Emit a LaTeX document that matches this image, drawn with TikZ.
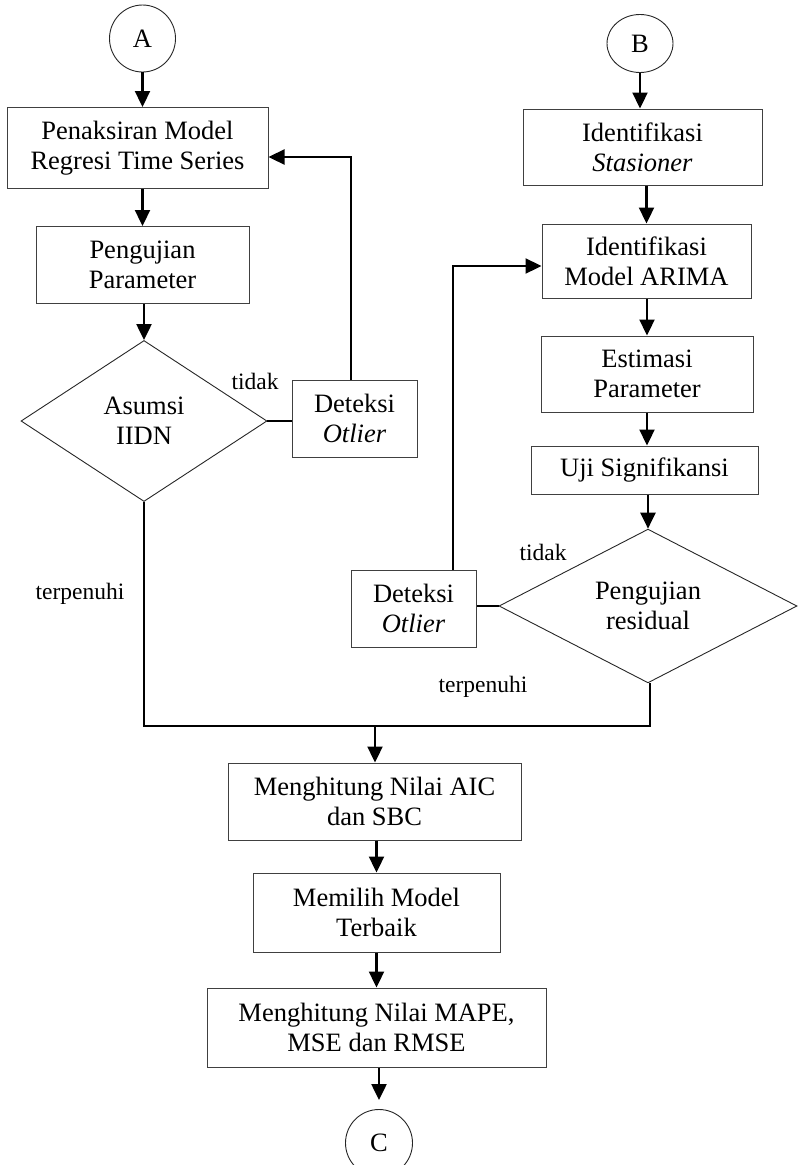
\documentclass[tikz,border=0pt]{standalone}
\usepackage{fontspec}
\setmainfont{Liberation Serif}
\usetikzlibrary{shapes.geometric,arrows.meta}
\begin{document}
\begin{tikzpicture}[x=1pt,y=-1pt,
  every node/.style={font=\fontsize{26.5}{30}\selectfont, inner sep=0pt, align=center},
  box/.style={draw=black!75, line width=1pt, rectangle},
  dia/.style={draw=black!85, line width=0.9pt, diamond},
  circ/.style={draw=black!85, line width=0.9pt, ellipse},
  conn/.style={draw=black, line width=2.3pt},
  arr/.style={conn, -{Triangle[length=16pt,width=15pt]}},
  lbl/.style={font=\fontsize{23.5}{26}\selectfont},
]
\path[use as bounding box] (0,0) rectangle (798,1165);

% left column
\node[circ, minimum width=66pt, minimum height=67pt] (A) at (142.5,38.5) {A};
\node[box, minimum width=261pt, minimum height=81pt] (P1) at (137.5,148) {Penaksiran Model\\Regresi Time Series};
\node[box, minimum width=213pt, minimum height=77pt] (P2) at (142.5,265) {Pengujian\\Parameter};
\node[dia, minimum width=246pt, minimum height=161pt] (D1) at (144,421) {Asumsi\\IIDN};
\node[box, minimum width=125pt, minimum height=77pt] (O1) at (354.5,418.5) {Deteksi\\\textit{Otlier}};
\node[lbl] (t1) at (255,381) {tidak};
\node[lbl] (f1) at (80,594) {terpenuhi};

% right column
\node[circ, minimum width=66pt, minimum height=58pt] (B) at (640,43.5) {B};
\node[box, minimum width=239pt, minimum height=76pt] (S1) at (642.5,147) {Identifikasi\\\textit{Stasioner}};
\node[box, minimum width=209pt, minimum height=74pt] (S2) at (646.5,261) {Identifikasi\\Model ARIMA};
\node[box, minimum width=212pt, minimum height=76pt] (S3) at (647,374) {Estimasi\\Parameter};
\node[box, minimum width=227pt, minimum height=48pt] (S4) at (644.5,470) {Uji Signifikansi};
\node[dia, minimum width=298pt, minimum height=152pt] (D2) at (648,606) {Pengujian\\residual};
\node[box, minimum width=125pt, minimum height=77pt] (O2) at (413.5,608.5) {Deteksi\\\textit{Otlier}};
\node[lbl] (t2) at (543,552) {tidak};
\node[lbl] (f2) at (483,687) {terpenuhi};

% bottom column
\coordinate (J) at (375,726);
\node[box, minimum width=293pt, minimum height=77pt] (M1) at (374.5,801.5) {Menghitung Nilai AIC\\dan SBC};
\node[box, minimum width=247pt, minimum height=79pt] (M2) at (376.5,912.5) {Memilih Model\\Terbaik};
\node[box, minimum width=339pt, minimum height=79pt] (M3) at (376.5,1027.5) {Menghitung Nilai MAPE,\\MSE dan RMSE};
\node[circ, minimum width=67pt, minimum height=67pt] (C) at (379,1143) {C};

% connectors left
\draw[arr] (A.south) -- (A.south |- P1.north);
\draw[arr] (P1.south -| P2.north) -- (P2.north);
\draw[arr] (P2.south -| D1.north) -- (D1.north);
\draw[conn] (D1.east) -- (D1.east -| O1.west);
\draw[arr] ([xshift=-3.5pt]O1.north) |- ([yshift=-9pt]P1.east);

% connectors right
\draw[arr] (B.south) -- (B.south |- S1.north);
\draw[arr] (S1.south -| S2.north) -- (S2.north);
\draw[arr] (S2.south -| S3.north) -- (S3.north);
\draw[arr] (S3.south) -- (S3.south |- S4.north);
\draw[arr] (S4.south -| D2.north) -- (D2.north);
\draw[conn] (D2.west) -- (D2.west -| O2.east);
\draw[arr] ([xshift=39.5pt]O2.north) |- ([yshift=-5pt]S2.west);

% merge and bottom
\draw[conn] (D1.south) |- (J) -| ([xshift=2pt]D2.south);
\draw[arr] (J) -- (J |- M1.north);
\draw[arr] (M2.north |- M1.south) -- (M2.north);
\draw[arr] (M2.south) -- (M2.south |- M3.north);
\draw[arr, shorten >=9pt] (C.north |- M3.south) -- (C.north);
\end{tikzpicture}
\end{document}
